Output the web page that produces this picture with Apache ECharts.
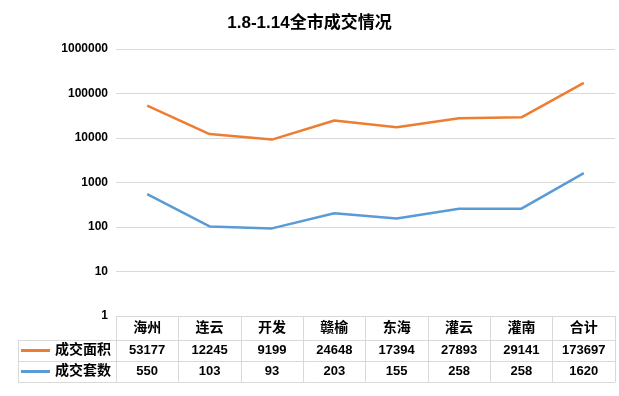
<!DOCTYPE html>
<html><head><meta charset="utf-8">
<script src="https://cdn.jsdelivr.net/npm/echarts@6/dist/echarts.min.js"></script>
<style>html,body{margin:0;padding:0;background:#fff}#c{width:619px;height:396px}</style>
</head><body><div id="c"></div>
<script>
const title = '1.8-1.14全市成交情况';
const categories = ['海州','连云','开发','赣榆','东海','灌云','灌南','合计'];
const areaName = '成交面积';
const countName = '成交套数';
const areaValues = [53177, 12245, 9199, 24648, 17394, 27893, 29141, 173697];
const countValues = [550, 103, 93, 203, 155, 258, 258, 1620];
const yTicks = [1, 10, 100, 1000, 10000, 100000, 1000000];

const FONT = '"Liberation Sans","Noto Sans CJK SC",sans-serif';
const GRID = '#D9D9D9';
const chart = echarts.init(document.getElementById('c'), null, {renderer:'canvas'});
const L = 116, R = 4, T = 49, B = 80;
const tableTop = 396 - B, hdrH = 24, rowH = 21;
const right = 619 - R;
const option = {
  animation:false,
  textStyle:{fontFamily:FONT},
  title:{text:title,left:'center',top:10,textStyle:{fontFamily:FONT,fontSize:17,fontWeight:'bold',color:'#000'}},
  grid:{left:L,right:R,top:T,bottom:B,containLabel:false},
  legend:{
    orient:'vertical', left:21, top:tableTop+hdrH, itemGap:0, padding:0,
    icon:'rect', itemWidth:29, itemHeight:3,
    textStyle:{fontFamily:FONT,fontSize:14,fontWeight:'bold',color:'#000',lineHeight:rowH,height:rowH,verticalAlign:'middle',padding:[0,0,0,0]},
    data:[areaName,countName]
  },
  xAxis:{
    type:'category', data:categories, boundaryGap:true,
    axisLine:{lineStyle:{color:GRID,width:1}},
    axisTick:{show:true,interval:0,length:hdrH+2*rowH,lineStyle:{color:GRID}},
    axisLabel:{
      interval:0, margin:0, verticalAlign:'top',
      formatter:(v,i)=>'{h|'+v+'}\n{v|'+areaValues[i]+'}\n{v|'+countValues[i]+'}',
      rich:{
        h:{fontFamily:FONT,fontSize:14,fontWeight:'bold',color:'#000',lineHeight:hdrH,height:hdrH,verticalAlign:'middle'},
        v:{fontFamily:FONT,fontSize:13,fontWeight:'bold',color:'#000',lineHeight:rowH,height:rowH,verticalAlign:'middle'}
      }
    }
  },
  yAxis:{
    type:'log', logBase:10, min:yTicks[0], max:yTicks[yTicks.length-1],
    axisLine:{show:false}, axisTick:{show:false},
    splitLine:{lineStyle:{color:GRID,width:1}},
    axisLabel:{margin:8,fontFamily:FONT,fontSize:12,fontWeight:'bold',color:'#000',formatter:v=>String(Math.round(v))}
  },
  series:[
    {name:areaName,type:'line',data:areaValues,symbol:'none',lineStyle:{color:'#ED7D31',width:2.5},itemStyle:{color:'#ED7D31'}},
    {name:countName,type:'line',data:countValues,symbol:'none',lineStyle:{color:'#5B9BD5',width:2.5},itemStyle:{color:'#5B9BD5'}}
  ],
  graphic:[
    {type:'line',shape:{x1:18,y1:tableTop+hdrH+0.5,x2:right,y2:tableTop+hdrH+0.5},style:{stroke:GRID,lineWidth:1}},
    {type:'line',shape:{x1:18,y1:tableTop+hdrH+rowH+0.5,x2:right,y2:tableTop+hdrH+rowH+0.5},style:{stroke:GRID,lineWidth:1}},
    {type:'line',shape:{x1:18,y1:tableTop+hdrH+2*rowH+0.5,x2:right,y2:tableTop+hdrH+2*rowH+0.5},style:{stroke:GRID,lineWidth:1}},
    {type:'line',shape:{x1:18.5,y1:tableTop+hdrH,x2:18.5,y2:tableTop+hdrH+2*rowH},style:{stroke:GRID,lineWidth:1}}
  ]
};
chart.setOption(option);
</script></body></html>
